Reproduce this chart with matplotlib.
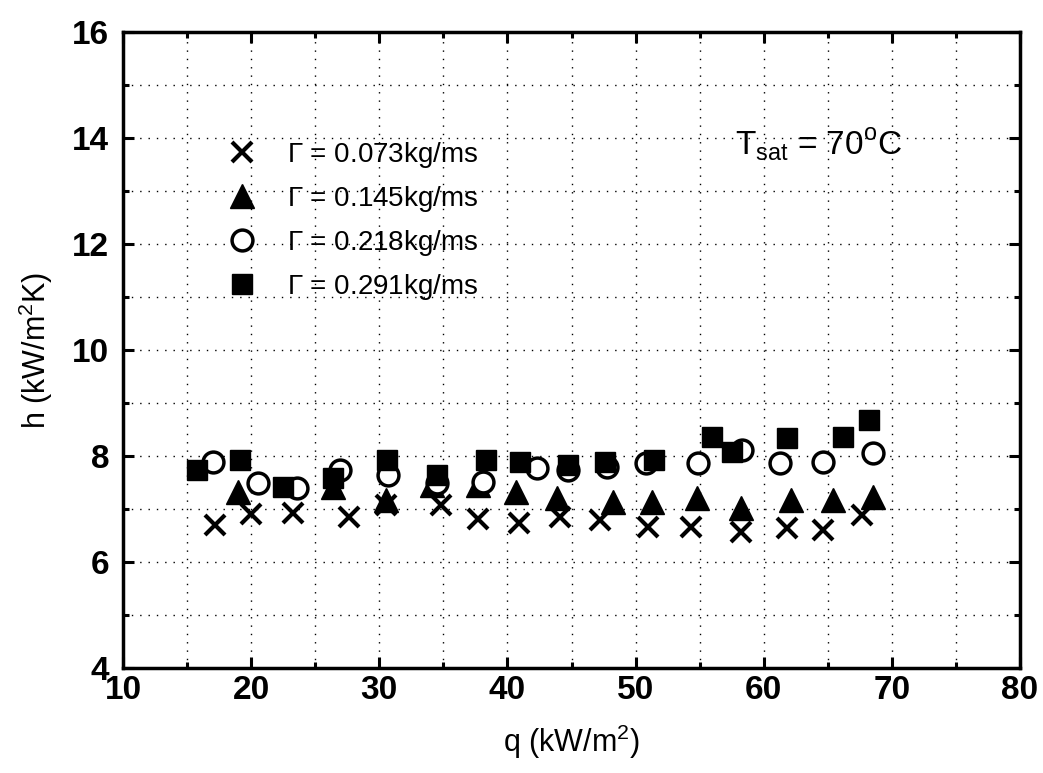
import matplotlib
matplotlib.use("Agg")
import matplotlib.pyplot as plt
from matplotlib.ticker import MultipleLocator

plt.rcParams['font.family'] = ['Liberation Sans', 'DejaVu Sans']
plt.rcParams['mathtext.fontset'] = 'custom'
plt.rcParams['mathtext.rm'] = 'Liberation Sans'

# Γ = 0.073 kg/ms
q1 = [17.2, 20.0, 23.3, 27.6, 30.5, 34.8, 37.7, 40.9, 44.1, 47.2, 51.0, 54.3, 58.2, 61.8, 64.6, 67.7]
h1 = [6.70, 6.91, 6.92, 6.85, 7.08, 7.08, 6.81, 6.74, 6.85, 6.79, 6.66, 6.66, 6.57, 6.64, 6.60, 6.89]
# Γ = 0.145 kg/ms
q2 = [19.0, 26.4, 30.5, 34.1, 37.7, 40.7, 43.9, 48.2, 51.3, 54.8, 58.2, 62.1, 65.4, 68.5]
h2 = [7.32, 7.42, 7.17, 7.45, 7.45, 7.32, 7.21, 7.13, 7.13, 7.21, 7.02, 7.17, 7.17, 7.23]
# Γ = 0.218 kg/ms
q3 = [17.0, 20.5, 23.6, 26.9, 30.7, 34.5, 38.1, 42.3, 44.7, 47.8, 50.8, 54.9, 58.3, 61.3, 64.6, 68.5]
h3 = [7.89, 7.49, 7.40, 7.74, 7.64, 7.49, 7.51, 7.77, 7.74, 7.79, 7.87, 7.87, 8.11, 7.87, 7.89, 8.06]
# Γ = 0.291 kg/ms
q4 = [15.8, 19.1, 22.5, 26.4, 30.6, 34.5, 38.3, 41.0, 44.7, 47.6, 51.4, 56.0, 57.5, 61.8, 66.2, 68.2]
h4 = [7.74, 7.92, 7.42, 7.58, 7.92, 7.64, 7.92, 7.89, 7.83, 7.89, 7.92, 8.36, 8.08, 8.34, 8.36, 8.68]

labels = [r'$\Gamma$ = 0.073kg/ms', r'$\Gamma$ = 0.145kg/ms',
          r'$\Gamma$ = 0.218kg/ms', r'$\Gamma$ = 0.291kg/ms']
xticks = [10, 20, 30, 40, 50, 60, 70, 80]
yticks = [4, 6, 8, 10, 12, 14, 16]

fig = plt.figure(figsize=(10.43, 7.73), dpi=100)
ax = fig.add_axes([0.1179, 0.1358, 0.978 - 0.1179, 0.9586 - 0.1358])

ax.plot(q1, h1, linestyle='none', marker='x', ms=14, mew=3, color='black', label=labels[0])
ax.plot(q2, h2, linestyle='none', marker='^', ms=17, color='black', label=labels[1])
ax.plot(q3, h3, linestyle='none', marker='o', ms=15, mfc='white', mec='black', mew=2.5, label=labels[2])
ax.plot(q4, h4, linestyle='none', marker='s', ms=14.5, color='black', label=labels[3])

ax.set_xlim(10, 80)
ax.set_ylim(4, 16)
ax.set_xticks(xticks)
ax.set_yticks(yticks)
ax.xaxis.set_minor_locator(MultipleLocator(5))
ax.yaxis.set_minor_locator(MultipleLocator(1))
ax.tick_params(which='both', direction='in', top=True, right=True, width=2.2)
ax.tick_params(which='major', length=8, labelsize=24)
ax.tick_params(axis='x', which='major', pad=5)
ax.tick_params(axis='y', which='major', pad=10)
ax.tick_params(which='minor', length=4)
for lab in ax.get_xticklabels() + ax.get_yticklabels():
    lab.set_fontweight('bold')
for s in ax.spines.values():
    s.set_linewidth(2.5)
ax.grid(which='both', linestyle=(0, (1, 5)), color='black', linewidth=1.0)

ax.set_xlabel(r'q (kW/m$^{2}$)', fontsize=22, labelpad=12)
ax.set_ylabel(r'h (kW/m$^{2}$K)', fontsize=22, labelpad=12)

ax.text(0.682, 0.822, r'T$_{\rm sat}$ = 70$^{\rm o}$C', transform=ax.transAxes,
        fontsize=24, ha='left', va='center')

leg = ax.legend(loc='upper left', bbox_to_anchor=(0.102, 0.852), frameon=False,
                fontsize=20, handletextpad=1.1, labelspacing=0.5, borderpad=0,
                handlelength=1.0)

fig.savefig('out.png', dpi=100)
